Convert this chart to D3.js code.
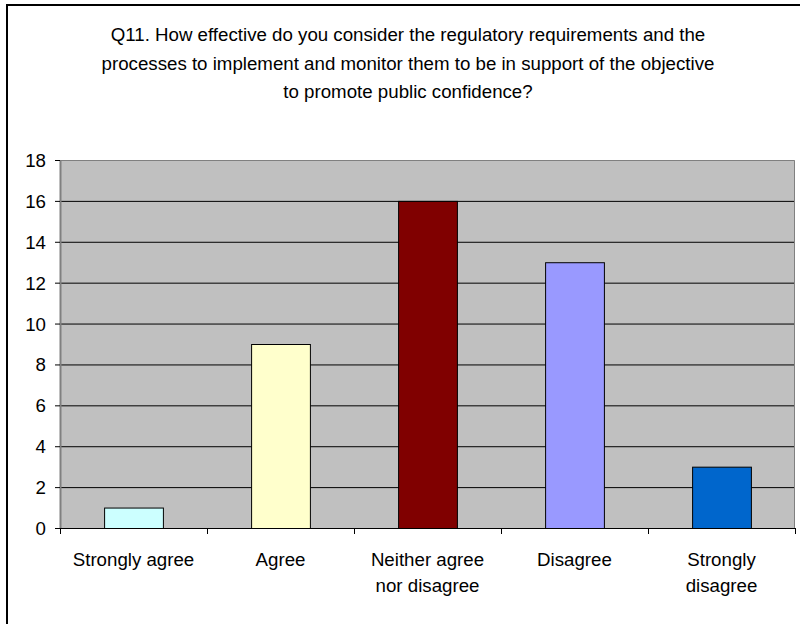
<!DOCTYPE html>
<html><head><meta charset="utf-8">
<script src="https://cdn.jsdelivr.net/npm/d3@7"></script>
<style>body{margin:0;background:#fff}svg{display:block}text{font-family:"Liberation Sans",Arial,sans-serif;fill:#000}</style>
</head><body>
<svg id="c" width="800" height="624"></svg>
<script>
const categories = [["Strongly agree"],["Agree"],["Neither agree","nor disagree"],["Disagree"],["Strongly","disagree"]];
const values = [1, 9, 16, 13, 3];
const colors = ["#CCFFFF","#FFFFCC","#800000","#9999FF","#0066CC"];
const yTicks = [0,2,4,6,8,10,12,14,16,18];
const titleLines = ["Q11. How effective do you consider the regulatory requirements and the",
  "processes to implement and monitor them to be in support of the objective",
  "to promote public confidence?"];

const svg = d3.select("#c");
const L=60, R=795, T=160, B=528;
const FS = "18.7px";
svg.append("rect").attr("x",7).attr("y",5).attr("width",820).attr("height",650)
  .attr("fill","#fff").attr("stroke","#000").attr("stroke-width",2);

const x = d3.scaleBand().domain(d3.range(values.length)).range([L,R]).paddingInner(0.6).paddingOuter(0.3);
const xb = d3.scaleBand().domain(d3.range(values.length)).range([L,R]);
const y = d3.scaleLinear().domain([0,18]).range([B,T]);

svg.append("rect").attr("x",L).attr("y",T).attr("width",R-L).attr("height",B-T).attr("fill","#C0C0C0");
svg.selectAll("line.grid").data(yTicks.filter(d=>d>0&&d<18)).join("line")
  .attr("x1",L).attr("x2",R).attr("y1",d=>y(d)+0.5).attr("y2",d=>y(d)+0.5)
  .attr("stroke","#000").attr("stroke-width",1);
svg.append("path").attr("d",`M${L},${T+0.5}H${R-0.5}V${B}`).attr("fill","none").attr("stroke","#808080").attr("stroke-width",1);

svg.selectAll("rect.bar").data(values).join("rect")
  .attr("x",(d,i)=>x(i)+0.5).attr("y",d=>y(d)+0.5).attr("width",x.bandwidth()).attr("height",d=>B-y(d))
  .attr("fill",(d,i)=>colors[i]).attr("stroke","#000").attr("stroke-width",1);

// y axis
const ya = svg.append("g").attr("transform",`translate(${L},0)`)
  .call(d3.axisLeft(y).tickValues(yTicks).tickSize(5).tickPadding(9).tickSizeOuter(0));
ya.select(".domain").attr("stroke","#808080").attr("stroke-width",2);
ya.selectAll(".tick line").attr("stroke","#000");
ya.selectAll(".tick text").style("font-size",FS).attr("dy","0.35em").style("font-family","Liberation Sans, Arial, sans-serif");

// x axis
svg.append("line").attr("x1",L).attr("x2",R).attr("y1",B+0.5).attr("y2",B+0.5).attr("stroke","#000");
const bounds = d3.range(values.length+1).map(i=> i<values.length ? xb(i) : R);
svg.selectAll("line.xt").data(bounds).join("line")
  .attr("x1",d=>d+0.5).attr("x2",d=>d+0.5).attr("y1",B).attr("y2",B+6).attr("stroke","#000");
categories.forEach((lines,i)=>{
  const t = svg.append("text").attr("text-anchor","middle").style("font-size",FS)
    .attr("x",xb(i)+xb.bandwidth()/2).attr("y",566);
  lines.forEach((s,j)=>t.append("tspan").attr("x",xb(i)+xb.bandwidth()/2).attr("dy",j?26:0).text(s));
});

const tt = svg.append("text").attr("text-anchor","middle").style("font-size",FS);
titleLines.forEach((s,j)=>tt.append("tspan").attr("x",408).attr("y",41+j*28.5).text(s));
</script>
</body></html>
